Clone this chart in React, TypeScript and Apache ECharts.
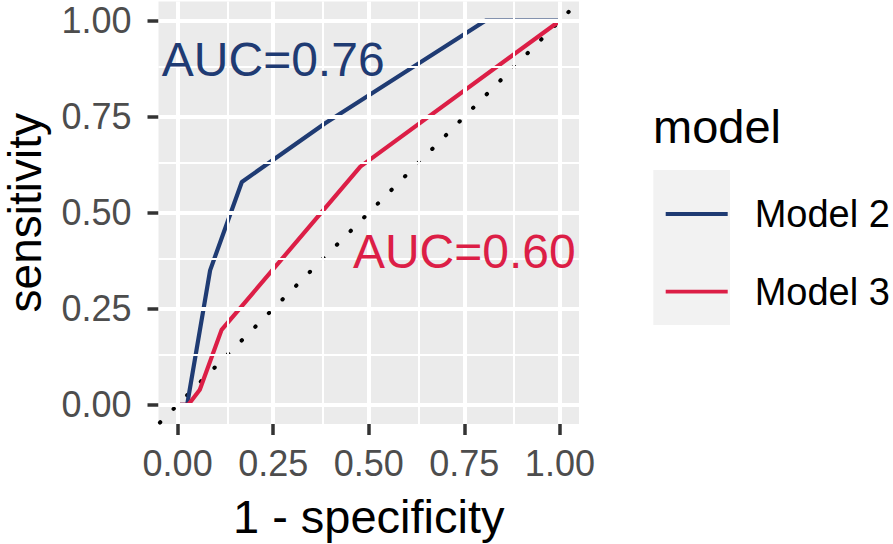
import React, { useEffect, useRef } from "react";
import * as echarts from "echarts";

const seriesNames = ["Model 2", "Model 3"];
const model2Points: [number, number][] = [
  [0, 0], [0.025, 0], [0.03, 0.03], [0.085, 0.35], [0.168, 0.58], [0.386, 0.733], [0.805, 1], [1, 1],
];
const model3Points: [number, number][] = [
  [0, 0], [0.028, 0], [0.058, 0.039], [0.115, 0.195], [0.478, 0.62], [1, 1],
];
const diagonalPoints: [number, number][] = [[-0.05, -0.05], [1.05, 1.05]];
const majorBreaks = [0, 0.25, 0.5, 0.75, 1];
const minorBreaks = [0.125, 0.375, 0.625, 0.875];
const aucLabels = ["AUC=0.76", "AUC=0.60"];
const aucPositions: [number, number][] = [[0.25, 0.9], [0.75, 0.4]];
const colors = ["#1F3B73", "#DC1E46"];
const FONT = "'Liberation Sans', Arial, sans-serif";

export default function App() {
  const ref = useRef<HTMLDivElement>(null);
  useEffect(() => {
    if (!ref.current) return;
    const chart = echarts.init(ref.current, undefined, { renderer: "svg" });
    const gridSeries = (breaks: number[], width: number, name: string) => ({
      type: "line",
      name,
      data: [],
      silent: true,
      z: 1,
      markLine: {
        silent: true,
        symbol: ["none", "none"],
        label: { show: false },
        lineStyle: { color: "#FFFFFF", type: "solid", width, opacity: 1 },
        emphasis: { disabled: true },
        data: [...breaks.map((v) => ({ xAxis: v })), ...breaks.map((v) => ({ yAxis: v }))],
      },
    });
    const axisCommon = {
      type: "value" as const,
      min: -0.05,
      max: 1.05,
      axisLine: { show: false, onZero: false },
      splitLine: { show: false },
      axisTick: {
        show: true,
        length: 11,
        customValues: majorBreaks,
        lineStyle: { color: "#333333", width: 3.5 },
      },
      nameLocation: "middle" as const,
      nameMoveOverlap: false,
      nameTextStyle: { fontFamily: FONT, fontSize: 47, color: "#000000" },
    };
    chart.setOption({
      animation: false,
      grid: {
        left: 158.5,
        top: 1.5,
        width: 420.5,
        height: 422.5,
        show: true,
        containLabel: false,
        outerBoundsMode: "none",
        backgroundColor: "#EBEBEB",
        borderWidth: 0,
      },
      xAxis: {
        ...axisCommon,
        name: "1 - specificity",
        nameGap: 69,
        axisLabel: {
          customValues: majorBreaks,
          formatter: (v: number) => v.toFixed(2),
          fontFamily: FONT,
          fontSize: 36,
          color: "#4D4D4D",
          margin: 39,
          verticalAlign: "middle",
        },
      },
      yAxis: {
        ...axisCommon,
        name: "sensitivity",
        nameGap: 111,
        nameRotate: 90,
        nameTextStyle: { fontFamily: FONT, fontSize: 46, color: "#000000" },
        axisLabel: {
          customValues: majorBreaks,
          formatter: (v: number) => v.toFixed(2),
          fontFamily: FONT,
          fontSize: 36,
          color: "#4D4D4D",
          margin: 27,
        },
      },
      legend: {
        data: seriesNames,
        orient: "vertical",
        left: 660.7,
        top: 189,
        icon: "rect",
        itemWidth: 62,
        itemHeight: 3.8,
        itemGap: 37.7,
        z: 10,
        textStyle: {
          fontFamily: FONT,
          fontSize: 38,
          color: "#000000",
          lineHeight: 40,
          padding: [0, 0, 0, 22],
        },
      },
      graphic: [
        {
          type: "rect",
          z: 1,
          shape: { x: 653.3, y: 170, width: 76.7, height: 155 },
          style: { fill: "#F2F2F2" },
        },
        {
          type: "text",
          z: 1,
          x: 653,
          y: 126,
          style: {
            text: "model",
            font: `47px ${FONT}`,
            fill: "#000000",
            verticalAlign: "middle",
            align: "left",
          },
        },
      ],
      series: [
        gridSeries(minorBreaks, 2, "minorGrid"),
        gridSeries(majorBreaks, 4, "majorGrid"),
        {
          type: "line",
          name: "diagonal",
          data: diagonalPoints,
          showSymbol: false,
          silent: true,
          z: 3,
          lineStyle: { color: "#000000", width: 4, type: [0.5, 18.8], cap: "round", dashOffset: -2 },
        },
        {
          type: "line",
          name: seriesNames[0],
          data: model2Points,
          showSymbol: false,
          z: 4,
          color: colors[0],
          lineStyle: { color: colors[0], width: 4.2, opacity: 1 },
        },
        {
          type: "line",
          name: seriesNames[1],
          data: model3Points,
          showSymbol: false,
          z: 4,
          color: colors[1],
          lineStyle: { color: colors[1], width: 4.2, opacity: 1 },
        },
        ...aucLabels.map((t, i) => ({
          type: "scatter",
          name: "label" + i,
          data: [aucPositions[i]],
          symbolSize: 0,
          silent: true,
          z: 5,
          itemStyle: { opacity: 1 },
          label: {
            show: true,
            position: "inside",
            formatter: t,
            fontFamily: FONT,
            fontSize: 48,
            color: colors[i],
            opacity: 1,
          },
        })),
      ],
    });
    return () => chart.dispose();
  }, []);
  return (
    <div
      ref={ref}
      style={{ position: "absolute", left: 0, top: 0, width: 893, height: 544, background: "#FFFFFF" }}
    />
  );
}
